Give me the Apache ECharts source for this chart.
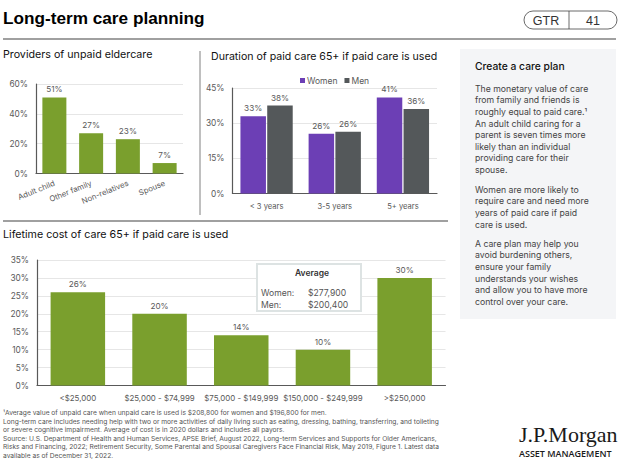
<!DOCTYPE html>
<html>
<head>
<meta charset="utf-8">
<title>Long-term care planning</title>
<style>
  html, body { margin: 0; padding: 0; background: #fff; }
  #chart { width: 624px; height: 465px; }
</style>
<script src="https://cdn.jsdelivr.net/npm/echarts@6/dist/echarts.min.js"></script>
</head>
<body>
<div id="chart"></div>
<script>
// data
const providerCats = ['Adult child', 'Other family', 'Non-relatives', 'Spouse'];
const providerVals = [51, 27, 23, 7];
const durationCats = ['< 3 years', '3-5 years', '5+ years'];
const womenVals = [33, 25.5, 41];
const menVals = [37.5, 26.3, 36];
const costCats = ['<$25,000', '$25,000 - $74,999', '$75,000 - $149,999', '$150,000 - $249,999', '>$250,000'];
const costVals = [26, 20, 14, 10, 30];

const sideHead = 'Create a care plan';
const sideText = [
  'The monetary value of care\nfrom family and friends is\nroughly equal to paid care.¹\nAn adult child caring for a\nparent is seven times more\nlikely than an individual\nproviding care for their\nspouse.',
  'Women are more likely to\nrequire care and need more\nyears of paid care if paid\ncare is used.',
  'A care plan may help you\navoid burdening others,\nensure your family\nunderstands your wishes\nand allow you to have more\ncontrol over your care.'
];
const footnote = [
  '¹Average value of unpaid care when unpaid care is used is $208,800 for women and $196,800 for men.',
  'Long-term care includes needing help with two or more activities of daily living such as eating, dressing, bathing, transferring, and toileting',
  'or severe cognitive impairment. Average of cost is in 2020 dollars and includes all payors.',
  'Source: U.S. Department of Health and Human Services, APSE Brief, August 2022, Long-term Services and Supports for Older Americans,',
  'Risks and Financing, 2022; Retirement Security, Some Parental and Spousal Caregivers Face Financial Risk, May 2019, Figure 1. Latest data',
  'available as of December 31, 2022.'
];

const GREEN = '#7a9f2d';
const PURPLE = '#6c3fb5';
const SLATE = '#54585a';
const FONT = 'Inter, "Liberation Sans", sans-serif';

const myChart = echarts.init(document.getElementById('chart'), null, { renderer: 'svg' });

function pctLabel(p) { return Math.round(p.value) + '%'; }

function valueAxis(idx, max, interval) {
  return {
    type: 'value', gridIndex: idx, min: 0, max: max, interval: interval,
    axisLine: { show: true, lineStyle: { color: '#595959', width: 1.2 } },
    axisTick: { show: false },
    axisLabel: { color: '#595959', fontSize: 8.3, fontFamily: FONT, margin: 8, formatter: '{value}%' },
    splitLine: { lineStyle: { color: '#e6e6e6', width: 1.2 } }
  };
}

function catAxis(idx, data, extra) {
  return Object.assign({
    type: 'category', gridIndex: idx, data: data,
    axisLine: { lineStyle: { color: '#595959', width: 1.2 } },
    axisTick: { show: false }
  }, extra);
}

function barSeries(name, data, idx, color, width, gap) {
  return {
    name: name, type: 'bar', data: data, xAxisIndex: idx, yAxisIndex: idx,
    barWidth: width, barGap: gap, itemStyle: { color: color },
    label: { show: true, position: 'top', distance: 4, color: '#595959', fontSize: 8.2, fontFamily: FONT, formatter: pctLabel }
  };
}

function txt(x, y, text, size, color, extra) {
  return {
    type: 'text', x: x, y: y, silent: true,
    style: Object.assign({ text: text, fontSize: size, fill: color, fontFamily: FONT }, extra || {})
  };
}

function rule(x1, y1, x2, y2, color, w) {
  return { type: 'line', silent: true, shape: { x1: x1, y1: y1, x2: x2, y2: y2 }, style: { stroke: color, lineWidth: w } };
}

const graphics = [
  txt(3, 9, 'Long-term care planning', 17.2, '#000', { fontWeight: 'bold', fontFamily: '"Liberation Sans", sans-serif' }),
  rule(3, 39, 616, 39, '#808080', 1.3),
  rule(200, 51, 200, 215, '#808080', 1),
  rule(3, 221, 448, 221, '#808080', 1.3),
  txt(3, 49, 'Providers of unpaid eldercare', 10.7, '#111'),
  txt(211, 51, 'Duration of paid care 65+ if paid care is used', 10.6, '#111'),
  txt(3, 229, 'Lifetime cost of care 65+ if paid care is used', 10.7, '#111'),
  // GTR badge
  { type: 'rect', silent: true, shape: { x: 524, y: 11, width: 93, height: 18, r: 9 }, style: { fill: '#fff', stroke: '#444', lineWidth: 0.8 } },
  rule(569, 11, 569, 29, '#444', 0.8),
  txt(546, 14, 'GTR', 12.5, '#333', { textAlign: 'center', fontFamily: '"Liberation Sans", sans-serif' }),
  txt(593, 14, '41', 12.5, '#333', { textAlign: 'center', fontFamily: '"Liberation Sans", sans-serif' }),
  // side panel
  { type: 'rect', silent: true, shape: { x: 460, y: 49, width: 156, height: 270 }, style: { fill: '#f4f5f7' } },
  txt(475, 61, sideHead, 10.3, '#111', { fontWeight: 500 }),
  txt(475, 83, sideText[0], 8.7, '#444', { lineHeight: 11.6 }),
  txt(475, 184, sideText[1], 8.7, '#444', { lineHeight: 11.6 }),
  txt(475, 238, sideText[2], 8.7, '#444', { lineHeight: 11.6 }),
  // average box
  { type: 'rect', silent: true, shape: { x: 257, y: 264, width: 104, height: 47 }, style: { fill: '#fff', stroke: '#dde3e3', lineWidth: 2 } },
  txt(312, 268, 'Average', 8.5, '#333', { textAlign: 'center', fontWeight: 600 }),
  txt(261, 288, 'Women:', 8.6, '#555'),
  txt(308, 288, '$277,900', 8.6, '#555'),
  txt(261, 300, 'Men:', 8.6, '#555'),
  txt(308, 300, '$200,400', 8.6, '#555'),
  // footnote
  txt(3, 409, footnote.join('\n'), 6.65, '#555', { lineHeight: 8.5 }),
  // logo
  txt(519, 423, 'J.P.Morgan', 22, '#1a1a1a', { fontFamily: '"Liberation Serif", serif' }),
  txt(519, 449, 'ASSET MANAGEMENT', 9, '#1a1a1a', { fontFamily: '"Open Sans", sans-serif', fontWeight: 600, letterSpacing: 0.7 })
];
graphics.forEach(function(g) { g.z = 10; });

const option = {
  animation: false,
  backgroundColor: '#fff',
  textStyle: { fontFamily: FONT },
  legend: {
    data: ['Women', 'Men'], left: 295, top: 71, itemWidth: 5, itemHeight: 5, itemGap: 7,
    icon: 'rect', textStyle: { color: '#595959', fontSize: 8.5, padding: [0, 0, 0, -3] }, selectedMode: false
  },
  grid: [
    { left: 36, top: 84, width: 147, height: 89.5 },
    { left: 232.5, top: 88, width: 204.5, height: 105.5 },
    { left: 37, top: 260, width: 408.5, height: 125.5 }
  ],
  xAxis: [
    catAxis(0, providerCats, { axisLabel: { color: '#595959', fontSize: 7.8, interval: 0, rotate: 22, margin: 9, fontFamily: FONT } }),
    catAxis(1, durationCats, { axisLabel: { color: '#595959', fontSize: 7.6, margin: 9, fontFamily: FONT } }),
    catAxis(2, costCats, { axisLabel: { color: '#595959', fontSize: 7.9, interval: 0, margin: 8, fontFamily: FONT } })
  ],
  yAxis: [
    valueAxis(0, 60, 20),
    valueAxis(1, 45, 15),
    valueAxis(2, 35, 5)
  ],
  series: [
    barSeries('Providers', providerVals, 0, GREEN, 24, '0%'),
    barSeries('Women', womenVals, 1, PURPLE, 25.5, '5%'),
    barSeries('Men', menVals, 1, SLATE, 25.5, '5%'),
    barSeries('Lifetime cost', costVals, 2, GREEN, 54.5, '0%')
  ],
  graphic: graphics
};

myChart.setOption(option);
window.addEventListener('resize', function() { myChart.resize(); });
</script>
</body>
</html>
